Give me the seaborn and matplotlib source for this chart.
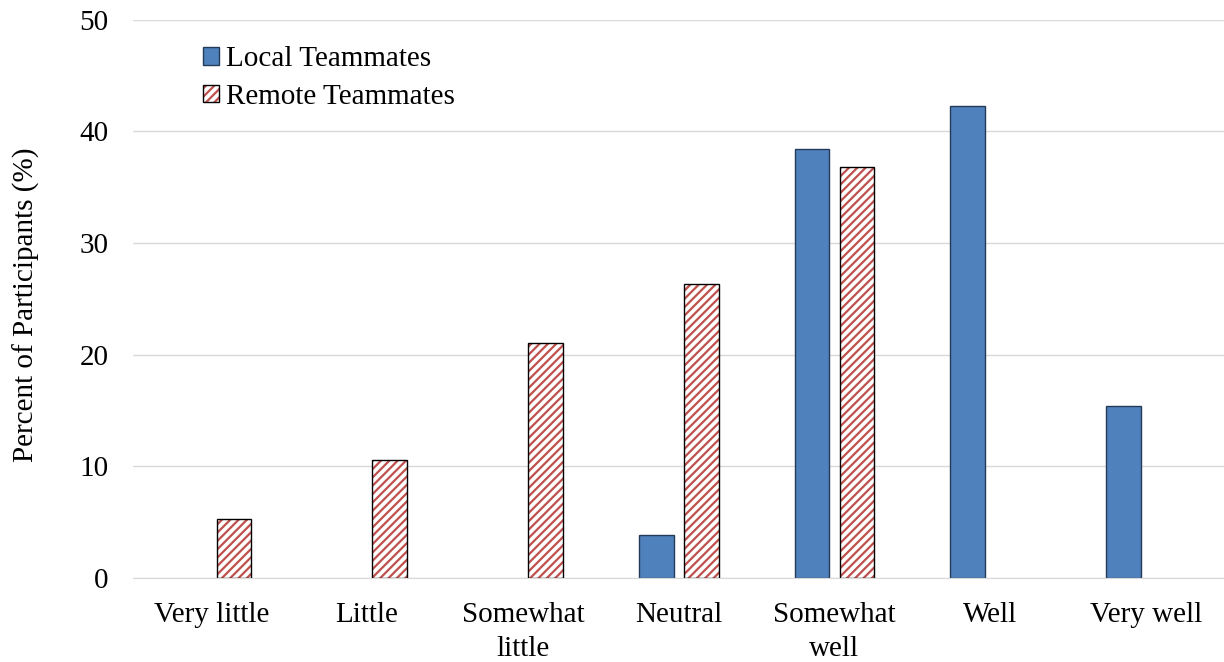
import pandas as pd
import matplotlib.pyplot as plt
import seaborn as sns
from matplotlib.patches import Rectangle, Patch

categories = ["Very little", "Little", "Somewhat\nlittle", "Neutral",
              "Somewhat\nwell", "Well", "Very well"]
local_pct = [0, 0, 0, 3.85, 38.46, 42.31, 15.38]
remote_pct = [5.26, 10.53, 21.05, 26.32, 36.84, 0, 0]
groups = ["Local Teammates", "Remote Teammates"]

df = pd.DataFrame({
    "category": categories * 2,
    "pct": local_pct + remote_pct,
    "group": [groups[0]] * len(categories) + [groups[1]] * len(categories),
})

sns.set_style("white")
plt.rcParams["font.family"] = ["Liberation Serif", "DejaVu Serif"]
plt.rcParams["hatch.linewidth"] = 1.6
plt.rcParams["text.color"] = "black"
plt.rcParams["xtick.color"] = "black"
plt.rcParams["ytick.color"] = "black"
plt.rcParams["axes.labelcolor"] = "black"

blue = "#4F81BD"
red = "#C0504D"
fs = 21

fig = plt.figure(figsize=(12.24, 6.62), dpi=100)
ax = fig.add_axes([0.109, 0.127, 0.891, 0.843])

sns.barplot(data=df, x="category", y="pct", hue="group", order=categories,
            hue_order=groups, palette=[blue, "white"], width=0.58, gap=0.23,
            dodge=True, saturation=1, legend=False, ax=ax)

local_bars, remote_bars = ax.containers[0], ax.containers[1]
for p in local_bars:
    p.set_edgecolor("#243b57")
    p.set_linewidth(1.0)
    if p.get_height() == 0:
        p.set_visible(False)
for p in remote_bars:
    if p.get_height() == 0:
        p.set_visible(False)
        continue
    p.set_facecolor("white")
    p.set_edgecolor(red)
    p.set_hatch("////")
    p.set_linewidth(0)
    ax.add_patch(Rectangle(p.get_xy(), p.get_width(), p.get_height(),
                           fill=False, edgecolor="black", linewidth=1.0, zorder=p.get_zorder() + 0.1))

ax.set_ylim(0, 50)
ax.set_xlim(-0.5, len(categories) - 0.5)
ax.set_yticks(range(0, 51, 10))
ax.yaxis.grid(True, color="#d9d9d9", linewidth=1)
ax.set_axisbelow(True)
for s in ["left", "right", "top"]:
    ax.spines[s].set_visible(False)
ax.spines["bottom"].set_color("#d9d9d9")
ax.tick_params(axis="both", length=0, labelsize=fs)
ax.tick_params(axis="x", pad=17)
ax.tick_params(axis="y", pad=18)
for t in ax.get_xticklabels():
    t.set_linespacing(1.4)
ax.set_xlabel("")
ax.set_ylabel("Percent of Participants (%)", fontsize=fs)
ax.yaxis.set_label_coords(-0.086, 0.49)

h_local = Patch(facecolor=blue, edgecolor="#243b57", linewidth=1.0)
h_remote_fill = Patch(facecolor="white", edgecolor=red, hatch="////", linewidth=0)
h_remote_edge = Patch(fill=False, edgecolor="black", linewidth=1.0)
ax.legend([h_local, (h_remote_fill, h_remote_edge)], groups,
          loc="upper left", bbox_to_anchor=(0.04, 1.0), frameon=False,
          fontsize=fs, handlelength=0.55, handleheight=0.55, handletextpad=0.22,
          labelspacing=0.4, borderaxespad=0.5)

plt.savefig("out.png", dpi=100)
